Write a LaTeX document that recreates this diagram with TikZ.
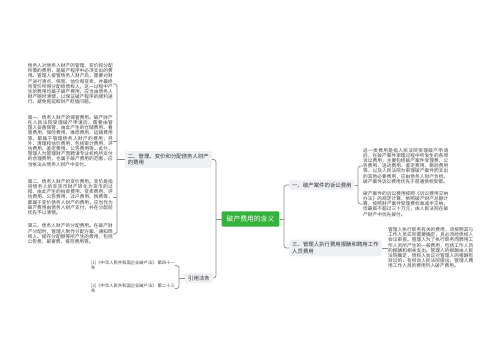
\documentclass[tikz,border=0pt]{standalone}
\usepackage{fontspec}
\newfontfamily\cjk{Noto Sans CJK SC}
\XeTeXlinebreaklocale "zh"
\XeTeXlinebreakskip=0pt plus 1pt
\definecolor{conn}{HTML}{8C8C8C}
\definecolor{rootc}{HTML}{34B23C}
\definecolor{boxc}{HTML}{EEF0F4}
\definecolor{nodec}{HTML}{333333}
\definecolor{leafc}{HTML}{444444}
\begin{document}
\begin{tikzpicture}[x=1pt,y=-1pt,
  leaf/.style={font=\cjk\fontsize{4.7}{5.2}\selectfont, text width=85pt, align=justify, inner sep=0pt, text=leafc},
  lvl/.style={font=\cjk\fontsize{5.4}{6.8}\selectfont, fill=boxc, rounded corners=1.5pt, inner xsep=3pt, inner ysep=2.5pt, align=left, text=nodec},
  root/.style={font=\cjk\fontsize{6.8}{8}\selectfont, fill=rootc, text=white, inner xsep=5pt, inner ysep=4.5pt, rounded corners=1pt},
  cite/.style={font=\cjk\fontsize{4.3}{5}\selectfont, align=left, inner sep=0pt, text=leafc},
  link/.style={draw=conn, line width=0.7pt, rounded corners=2.5pt}]
\useasboundingbox (0,0) rectangle (500,360);
\fill[white] (0,0) rectangle (500,360);

% root
\node[root] (root) at (250.5,219) {破产费用的含义};

% level 2
\node[lvl, anchor=east] (n2) at (212,159.5) {二、管理、变价和分配债务人财产\\的费用};
\node[lvl, anchor=east] (yin) at (213,278) {引用法条};
\node[lvl, anchor=west] (n1) at (289,185) {一、破产案件的诉讼费用};
\node[lvl, anchor=west] (n3) at (289,248) {三、管理人执行费用报酬和聘用工作\\人员费用};

% left leaves
\node[leaf, anchor=east] (L1) at (113,84) {债务人对债务人财产的管理、变价和分配所需的费用，是破产程序中必须支出的费用。管理人接管债务人财产后，需要对财产进行清点、保管、估价和变卖，并最终将变价所得分配给债权人，这一过程中产生的费用均属于破产费用，应当由债务人财产随时清偿，以保证破产程序的顺利进行，避免拖延和财产贬值问题。};
\node[leaf, anchor=east] (L2) at (113,141) {第一、债务人财产的保管费用。破产财产在人民法院受理破产申请后，需要由管理人妥善保管，由此产生的仓储费用、看管费用、保险费用、维修费用、运输费用等，都属于管理债务人财产的费用；另外，清理和估价费用，包括审计费用、评估费用、鉴定费用、公告费用等。此外，管理人为管理财产而聘请专业机构所支付的合理费用，也属于破产费用的范围，应当依法从债务人财产中支付。};
\node[leaf, anchor=east] (L3) at (113,197) {第二、债务人财产的变价费用。变价是指将债务人的非货币财产转化为货币的过程，由此产生的拍卖费用、变卖费用、评估费用、公告费用、过户费用、税费等，都属于变价债务人财产的费用，应当作为破产费用由债务人财产支付，并在分配前优先予以清偿。};
\node[leaf, anchor=east] (L4) at (113,234) {第三、债务人财产的分配费用。在破产财产分配时，管理人制作分配方案、通知债权人、提存分配额等所产生的费用，包括公告费、邮寄费、提存费用等。};

% citations
\node[cite, anchor=east] (C1) at (175,265.5) {[1]《中华人民共和国企业破产法》 第四十一\\条};
\node[cite, anchor=east] (C2) at (175,288.5) {[2]《中华人民共和国企业破产法》 第二十三\\条};

% right leaves
\node[leaf, anchor=west] (LA) at (363,166) {这一类费用是指人民法院受理破产申请后，在破产案件审理过程中所发生的各项诉讼费用，主要包括破产案件受理费、公告费用、送达费用、鉴定费用、勘验费用等，以及人民法院为审理破产案件而支出的其他必要费用，应由债务人财产负担。破产案件诉讼费用优先于普通债权受偿。};
\node[leaf, anchor=west] (LB) at (363,204) {破产案件的诉讼费用按照《诉讼费用交纳办法》的规定计算，依照破产财产总额计算，按照财产案件受理费标准减半交纳，但最高不超过三十万元，由人民法院在破产财产中优先拨付。};
\node[leaf, anchor=west] (LC) at (388,248) {管理人执行职务有关的费用，须按照其与工作人员实际需要确定，且必须经债权人会议审查。管理人为了执行职务而聘用工作人员所产生的一般费用，包括工作人员的报酬和相关支出。管理人的报酬由人民法院确定，债权人会议对管理人的报酬有异议的，有权向人民法院提出，管理人聘用工作人员的费用列入破产费用。};

% junction points
\coordinate (jl) at (216,219);
\coordinate (jr) at (284,219);
\coordinate (j2) at (117,159.5);
\coordinate (j1) at (358,185);
\coordinate (jc) at (179,278);

% connectors
\draw[link] (root.west) -- (jl);
\draw[link] (n2.east) -| (jl) |- (yin.east);
\draw[link] (root.east) -- (jr);
\draw[link] (n1.west) -| (jr) |- (n3.west);

\draw[link] (n2.west) -- (j2);
\draw[link] (L1.east) -| (j2) |- (L4.east);
\draw[link] (L2.east) -- (L2.east -| j2);
\draw[link] (L3.east) -- (L3.east -| j2);

\draw[link] (yin.west) -- (jc);
\draw[link] (C1.east) -| (jc) |- (C2.east);

\draw[link] (n1.east) -- (j1);
\draw[link] (LA.west) -| (j1) |- (LB.west);

\draw[link] (n3.east) -- (LC.west);
\end{tikzpicture}
\end{document}
